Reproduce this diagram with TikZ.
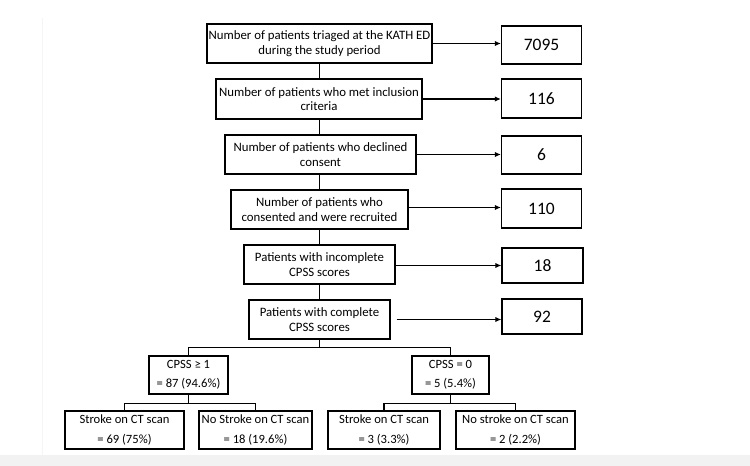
\documentclass[tikz,border=0pt]{standalone}
\usepackage{fontspec}
\setmainfont{Carlito}
\usetikzlibrary{arrows.meta,calc}
\begin{document}
\begin{tikzpicture}[x=1pt,y=-1pt,
  box/.style={draw=black,line width=1.4pt,inner sep=0pt,align=center,
    font=\fontsize{12.8}{14.5}\selectfont},
  numbox/.style={draw=black,line width=1.4pt,inner sep=0pt,align=center,
    minimum width=80pt,font=\fontsize{17.5}{20}\selectfont},
  leaf/.style={draw=black,line width=1.4pt,inner sep=0pt,align=center,
    minimum height=38pt,font=\fontsize{12.6}{19.5}\selectfont},
  conn/.style={line width=1.1pt},
  arr/.style={line width=1.1pt,-{Latex[length=6pt,width=5.5pt]}}]
\useasboundingbox (0,0) rectangle (750,466);
\fill[black!5] (0,455) rectangle (750,466);
\draw[black!4,line width=0.6pt] (42,18) -- (42,455);
% main column
\node[box,minimum width=225pt,minimum height=39pt] (b1) at (319.5,43.5)
  {Number of patients triaged at the KATH ED\\during the study period};
\node[box,minimum width=206pt,minimum height=40pt] (b2) at (319,99)
  {Number of patients who met inclusion\\criteria};
\node[box,minimum width=191pt,minimum height=39pt] (b3) at (320.5,154.5)
  {Number of patients who declined\\consent};
\node[box,minimum width=177pt,minimum height=39pt] (b4) at (319.5,209.5)
  {Number of patients who\\consented and were recruited};
\node[box,minimum width=151pt,minimum height=39pt] (b5) at (319.5,264.5)
  {Patients with incomplete\\CPSS scores};
\node[box,minimum width=141pt,minimum height=39pt] (b6) at (319.5,319.5)
  {Patients with complete\\CPSS scores};
% number column
\node[numbox,minimum height=38pt] (n1) at (541.5,45) {7095};
\node[numbox,minimum height=39pt] (n2) at (541.5,98.5) {116};
\node[numbox,minimum height=38pt] (n3) at (541.5,155) {6};
\node[numbox,minimum height=39pt] (n4) at (541.5,208.5) {110};
\node[numbox,minimum height=35pt,minimum width=81pt] (n5) at (542.5,265.5) {18};
\node[numbox,minimum height=35pt] (n6) at (542,316.5) {92};
% tree
\node[leaf,minimum width=79pt] (c1) at (188.5,375) {CPSS ≥ 1\\= 87 (94.6\%)};
\node[leaf,minimum width=77pt] (c0) at (450.5,375) {CPSS = 0\\= 5 (5.4\%)};
\node[leaf,minimum width=119pt] (s1) at (124.5,430) {Stroke on CT scan\\= 69 (75\%)};
\node[leaf,minimum width=113pt] (s2) at (255.5,430) {No Stroke on CT scan\\= 18 (19.6\%)};
\node[leaf,minimum width=112pt] (s3) at (384,430) {Stroke on CT scan\\= 3 (3.3\%)};
\node[leaf,minimum width=119pt] (s4) at (515.5,430) {No stroke on CT scan\\= 2 (2.2\%)};
% vertical connectors
\draw[conn] (b1.south) -- (b1.south |- b2.north);
\draw[conn] (b1.south |- b2.south) -- (b1.south |- b3.north);
\draw[conn] (b1.south |- b3.south) -- (b1.south |- b4.north);
\draw[conn] (b4.south) -- (b5.north);
\draw[conn] (b5.south) -- (b6.north);
% horizontal arrows
\draw[arr] (b1.east) -- (b1.east -| n1.west);
\draw[arr] (b2.east) -- (b2.east -| n2.west);
\draw[arr] (b3.east) -- (b3.east -| n3.west);
\coordinate (a4) at ([yshift=2pt]b4.east);
\draw[arr] (a4) -- (a4 -| n4.west);
\coordinate (a5) at ([yshift=-1pt]b5.east);
\draw[arr] (a5) -- (a5 -| n5.west);
\coordinate (a6) at ([xshift=6pt]b6.east);
\draw[arr] (a6) -- (a6 -| n6.west);
% tree connectors
\draw[conn] (b6.south) -- ++(0,8) coordinate (j1) -| (c1.north);
\draw[conn] (j1) -| (c0.north);
\draw[conn] (c1.south) -- ++(0,9) coordinate (j2) -| (s1.north);
\draw[conn] (j2) -| (s2.north);
\draw[conn] (c0.south) -- ++(0,9) coordinate (j3) -| (s3.north);
\draw[conn] (j3) -| (s4.north);
\end{tikzpicture}
\end{document}
